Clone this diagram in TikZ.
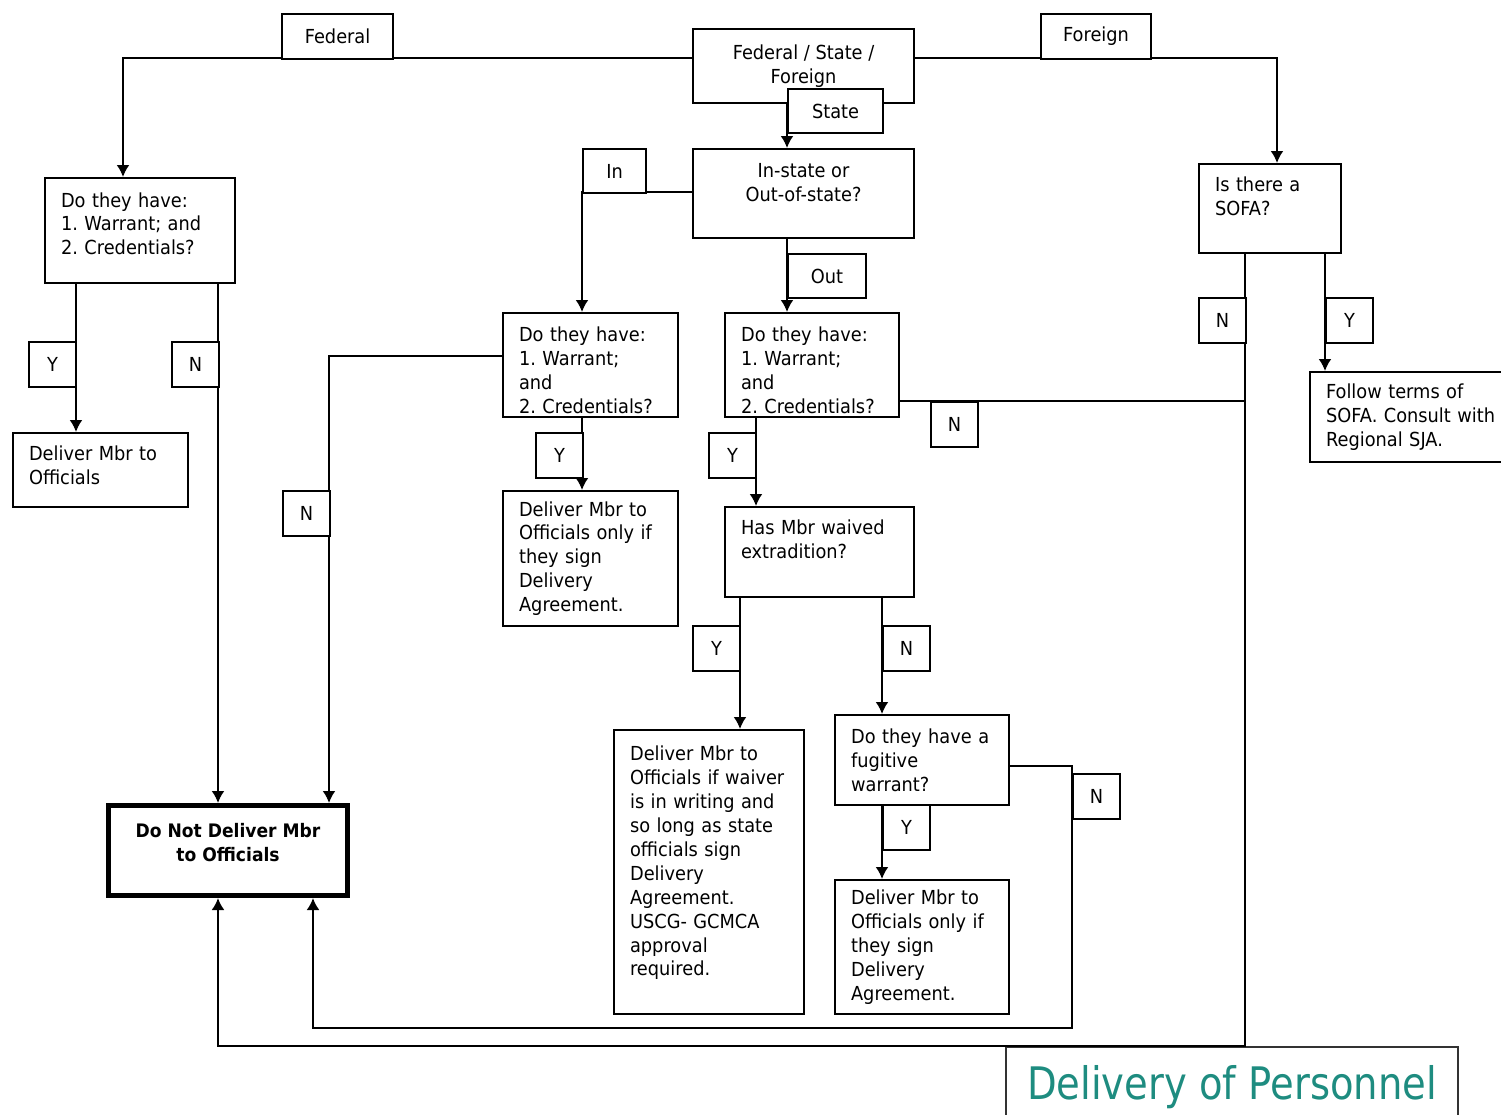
\documentclass[tikz,border=0pt]{standalone}
\usepackage{fontspec}
\setmainfont{DejaVu Sans}[FakeStretch=0.92]
\newfontfamily\titlefont{DejaVu Sans}[FakeStretch=0.86]
\usetikzlibrary{arrows.meta}
\definecolor{titleteal}{RGB}{30,140,128}
\frenchspacing
\tikzset{
  box/.style={draw, line width=1.2pt, anchor=north west, inner xsep=0.32cm, inner ysep=0pt,
    font=\fontsize{11}{13.6}\selectfont},
  lbox/.style={box, align=left},
  cbox/.style={box, align=center},
  tag/.style={draw, line width=1.2pt, fill=white, anchor=north west, inner sep=0pt,
    minimum width=0.94cm, minimum height=0.9cm, font=\fontsize{11}{13.6}\selectfont},
  arr/.style={line width=1.1pt, -{Latex[length=2.4mm,width=2.6mm]}},
  con/.style={line width=1.1pt}
}
\begin{document}
\begin{tikzpicture}[x=0.02cm,y=-0.02cm]
    \useasboundingbox (0,0) rectangle (1501,1115);
    % boxes
    \node[cbox, minimum width=4.42cm, minimum height=1.48cm] (top) at (692,28) {Federal / State /\\Foreign};
    \node[cbox, minimum width=4.42cm, minimum height=1.78cm] (ios) at (692,148) {In-state or\\Out-of-state?\\[-0.04cm]};
    \node[lbox, text width=3.16cm, minimum height=2.1cm] (fq) at (44,177) {Do they have:\\1. Warrant; and\\2. Credentials?\\[-0.2cm]\mbox{}};
    \node[lbox, text width=2.86cm, minimum height=1.48cm] (fdel) at (12,432) {Deliver Mbr to\\Officials\\[-0.28cm]\mbox{}};
    \node[lbox, text width=2.86cm, minimum height=2.08cm] (inq) at (502,312) {\rule{0pt}{0.5cm}Do they have:\\1. Warrant;\\and\\2. Credentials?};
    \node[lbox, text width=2.84cm, minimum height=2.08cm] (outq) at (724,312) {\rule{0pt}{0.5cm}Do they have:\\1. Warrant;\\and\\2. Credentials?};
    \node[lbox, text width=2.86cm, minimum height=2.7cm] (indel) at (502,490) {Deliver Mbr to\\Officials only if\\they sign\\Delivery\\Agreement.};
    \node[lbox, text width=3.14cm, minimum height=1.8cm] (waive) at (724,506) {Has Mbr waived\\extradition?\\[0.04cm]\mbox{}};
    \node[lbox, text width=2.2cm, minimum height=1.78cm] (sofa) at (1198,163) {Is there a\\SOFA?\\\mbox{}};
    \node[lbox, text width=3.5cm, minimum height=1.8cm] (follow) at (1309,371) {Follow terms of\\SOFA. Consult with\\Regional SJA.};
    \node[lbox, text width=3.16cm, minimum height=5.68cm] (waivey) at (613,729) {Deliver Mbr to\\Officials if waiver\\is in writing and\\so long as state\\officials sign\\Delivery\\Agreement.\\USCG- GCMCA\\approval\\required.\\[-0.04cm]\mbox{}};
    \node[lbox, text width=2.84cm, minimum height=1.8cm] (fug) at (834,714) {Do they have a\\fugitive\\warrant?};
    \node[lbox, text width=2.84cm, minimum height=2.68cm] (fugdel) at (834,879) {Deliver Mbr to\\Officials only if\\they sign\\Delivery\\Agreement.};
    \node[cbox, line width=2.9pt, minimum width=4.78cm, minimum height=1.8cm, font=\fontsize{10.6}{13.6}\selectfont\bfseries] (nodel) at (106,803) {Do Not Deliver Mbr\\to Officials\\[-0.16cm]};
    \node[draw=black!80, line width=1.2pt, anchor=north west, minimum width=9.04cm, minimum height=1.6cm,
      text=titleteal, font=\titlefont\fontsize{25.5}{30}\selectfont] (title) at (1005,1046) {Delivery of Personnel};
    % connectors
    \coordinate (nline) at (1245,401);
    \coordinate (fugn) at (1072,1028);
    \draw[arr] (top.west |- 0,58) -| (fq.north -| 123,0);
    \draw[arr] (top.east |- 0,58) -| (sofa.north -| 1277,0);
    \draw[arr] (top.south -| 787,0) -- (ios.north -| 787,0);
    \draw[arr] (ios.west |- 0,192) -| (inq.north -| 582,0);
    \draw[arr] (ios.south -| 787,0) -- (outq.north -| 787,0);
    \draw[arr] (fq.south -| 76,0) -- (fdel.north -| 76,0);
    \draw[arr] (fq.south -| 218,0) -- (nodel.north -| 218,0);
    \draw[arr] (inq.west |- 0,356) -| (nodel.north -| 329,0);
    \draw[arr] (inq.south -| 582,0) -- (indel.north -| 582,0);
    \draw[arr] (outq.south -| 756,0) -- (waive.north -| 756,0);
    \draw[con] (outq.east |- nline) -- (nline);
    \draw[arr] (sofa.south -| 1245,0) -- (title.north -| 1245,0) -| (nodel.south -| 218,0);
    \draw[arr] (sofa.south -| 1325,0) -- (follow.north -| 1325,0);
    \draw[arr] (waive.south -| 740,0) -- (waivey.north -| 740,0);
    \draw[arr] (waive.south -| 882,0) -- (fug.north -| 882,0);
    \draw[arr] (fug.south -| 882,0) -- (fugdel.north -| 882,0);
    \draw[arr] (fug.east |- 0,766) -| (fugn) -| (nodel.south -| 313,0);
    % Y / N tags
    \node[tag, minimum width=2.22cm] (tfed) at (281,13) {Federal};
    \node[tag, minimum width=2.2cm] (tforeign) at (1040,13) {Foreign};
    \node[tag, minimum width=1.9cm, minimum height=0.88cm] (tstate) at (787,88) {State};
    \node[tag, minimum width=1.26cm, minimum height=0.88cm] (tin) at (582,148) {In};
    \node[tag, minimum width=1.56cm, minimum height=0.88cm] (tout) at (787,253) {Out};
    \node[tag] (tfy) at (28,341) {Y};
    \node[tag] (tfn) at (171,341) {N};
    \node[tag] (tinn) at (282,490) {N};
    \node[tag] (tiny) at (535,432) {Y};
    \node[tag] (touty) at (708,432) {Y};
    \node[tag] (toutn) at (930,401) {N};
    \node[tag] (tsn) at (1198,297) {N};
    \node[tag] (tsy) at (1325,297) {Y};
    \node[tag] (twy) at (692,625) {Y};
    \node[tag] (twn) at (882,625) {N};
    \node[tag] (tfugn) at (1072,773) {N};
    \node[tag] (tfugy) at (882,804) {Y};
\end{tikzpicture}
\end{document}
